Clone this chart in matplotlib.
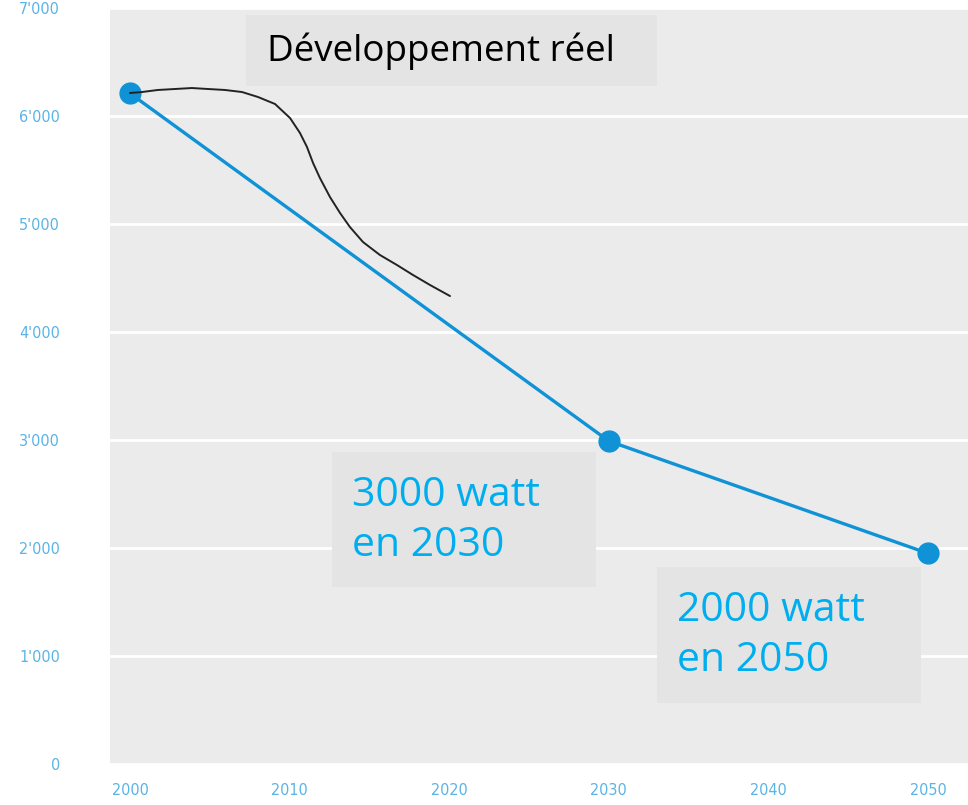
import matplotlib
matplotlib.use("Agg")
import matplotlib.pyplot as plt
from matplotlib.patches import Rectangle
from matplotlib.ticker import FuncFormatter

# Data
target_years = [2000, 2030, 2050]
target_values = [6210, 2990, 1950]

real_years = [2000.0, 2000.75, 2001.75, 2002.82, 2003.88, 2004.89, 2005.95, 2007.02,
              2008.02, 2009.09, 2010.03, 2010.65, 2011.09, 2011.47, 2011.90, 2012.53,
              2013.16, 2013.78, 2014.60, 2015.66, 2016.73, 2017.73, 2018.80, 2020.05]
real_values = [6213, 6222, 6241, 6250, 6259, 6250, 6241, 6222,
               6176, 6111, 5981, 5843, 5713, 5565, 5426, 5250,
               5102, 4972, 4833, 4713, 4620, 4528, 4435, 4333]

x_ticks = [2000, 2010, 2020, 2030, 2040, 2050]
y_ticks = [0, 1000, 2000, 3000, 4000, 5000, 6000, 7000]

label_real = "Développement réel"
label_2030 = "3000 watt\nen 2030"
label_2050 = "2000 watt\nen 2050"

W, H = 968, 805
fig = plt.figure(figsize=(W / 100, H / 100), dpi=100)
fig.patch.set_facecolor("white")

def fx(px):
    return px / W

def fy(py):
    return 1 - py / H

ax = fig.add_axes([fx(110), fy(764), fx(968) - fx(110), fy(8) - fy(764)])
ax.set_facecolor("#ebebeb")
for s in ax.spines.values():
    s.set_visible(False)

ax.set_xlim(1998.75, 2052.5)
ax.set_ylim(0, 7000)
ax.set_xticks(x_ticks)
ax.set_yticks(y_ticks)
ax.yaxis.set_major_formatter(FuncFormatter(lambda v, p: f"{int(v):,}".replace(",", "'")))
ax.tick_params(axis="both", length=0, colors="#5ab4e4", labelsize=11.5)
ax.tick_params(axis="y", pad=36)
ax.tick_params(axis="x", pad=14)
for lab in ax.get_xticklabels() + ax.get_yticklabels():
    lab.set_fontstretch("condensed")
ax.grid(axis="y", color="white", linewidth=2)
ax.grid(axis="x", visible=False)
ax.set_axisbelow(True)

ax.plot(target_years, target_values, color="#0f92d6", linewidth=2.4,
        marker="o", markersize=15, zorder=3)
ax.plot(real_years, real_values, color="#222222", linewidth=1.4, zorder=3,
        solid_joinstyle="round", solid_capstyle="round")

box_color = "#e4e4e4"
boxes = [
    (246, 15, 657, 86),
    (332, 452, 596, 587),
    (657, 567, 921, 703),
]
for (x0, y0, x1, y1) in boxes:
    fig.add_artist(Rectangle((fx(x0), fy(y1)), fx(x1) - fx(x0), fy(y0) - fy(y1),
                             transform=fig.transFigure, facecolor=box_color,
                             edgecolor="none", zorder=4))

fig.text(fx(267), fy(51), label_real, fontsize=26.5, family="Open Sans",
         color="black", va="center", ha="left", zorder=5)
fig.text(fx(352), fy(521), label_2030, fontsize=29.5, family="Open Sans",
         color="#00aeef", va="center", ha="left", linespacing=1.3, zorder=5)
fig.text(fx(677), fy(636), label_2050, fontsize=29.5, family="Open Sans",
         color="#00aeef", va="center", ha="left", linespacing=1.3, zorder=5)

fig.savefig("out.png", dpi=100)
